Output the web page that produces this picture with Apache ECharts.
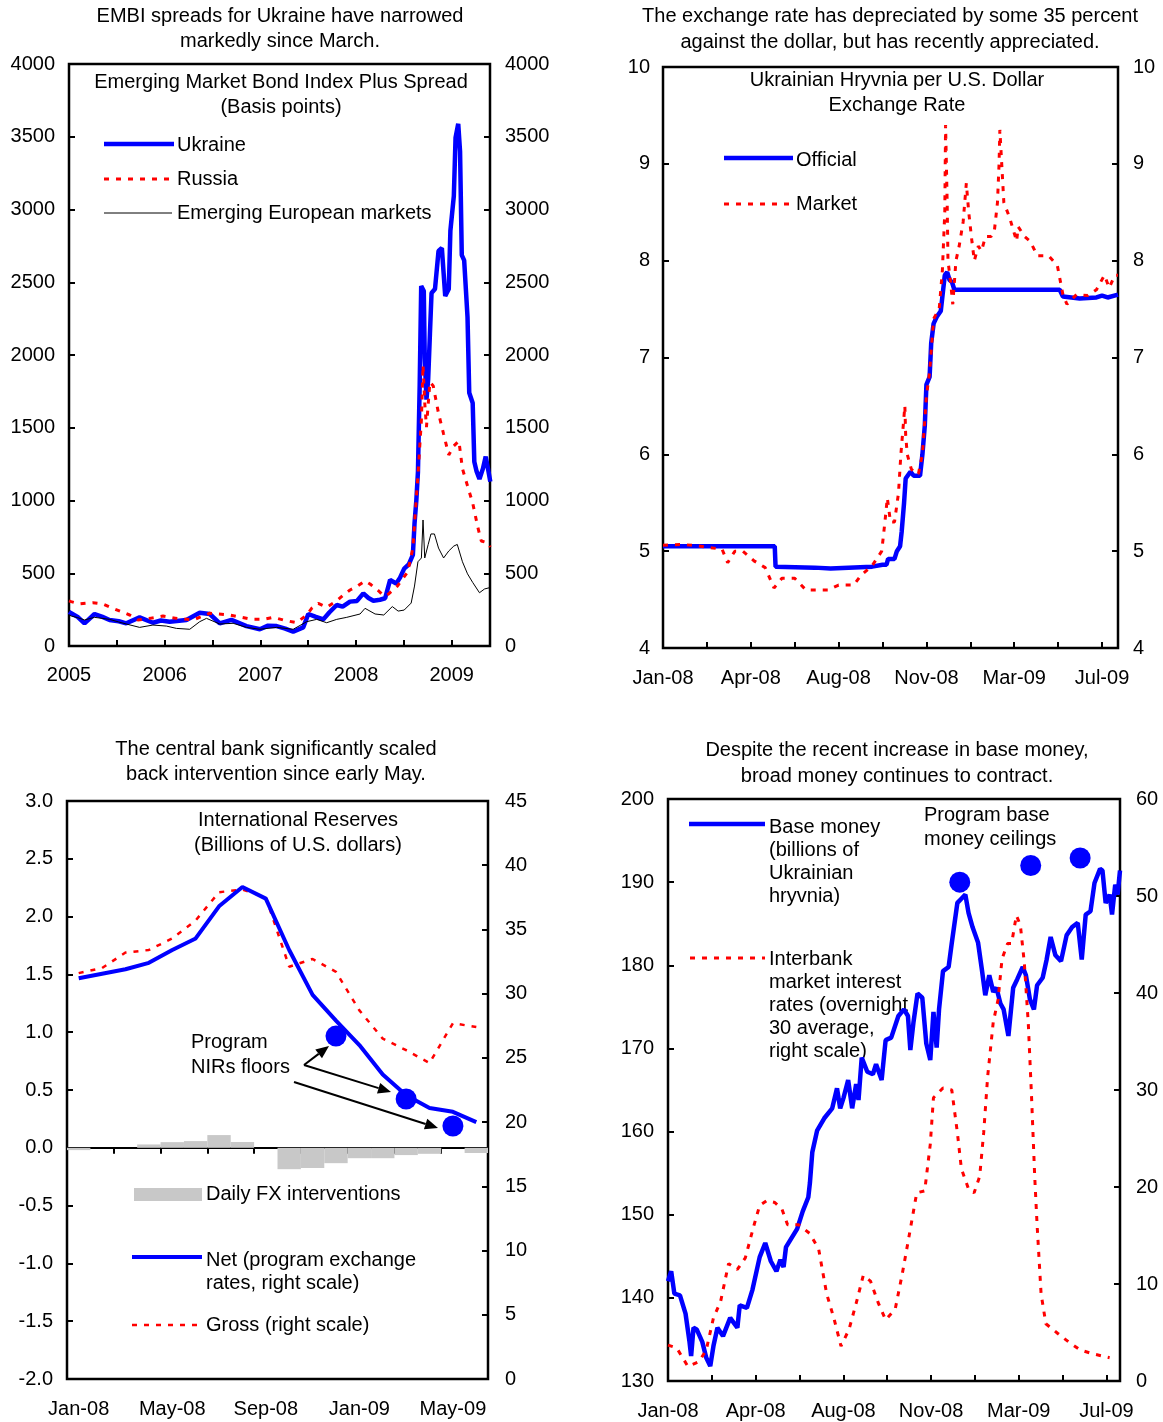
<!DOCTYPE html>
<html>
<head>
<meta charset="utf-8">
<script src="https://cdn.jsdelivr.net/npm/echarts@6/dist/echarts.min.js"></script>
<style>
html,body{margin:0;padding:0;background:#fff;}
#c{width:1163px;height:1422px;}
</style>
</head>
<body>
<div id="c"></div>
<script>
// ---------- Panel 1: EMBI+ spreads (x = decimal year) ----------
const p1YearLabels = ['2005','2006','2007','2008','2009'];
const ukraine = [[2005.0,235],[2005.023,225],[2005.09,200],[2005.162,156],[2005.267,220],[2005.35,200],[2005.424,179],[2005.52,170],[2005.599,156],[2005.738,197],[2005.877,160],[2005.96,175],[2006.052,167],[2006.227,179],[2006.366,229],[2006.471,220],[2006.576,156],[2006.698,179],[2006.855,137],[2006.995,115],[2007.08,140],[2007.170,137],[2007.26,120],[2007.343,98],[2007.448,128],[2007.501,220],[2007.58,200],[2007.658,183],[2007.72,230],[2007.798,282],[2007.86,270],[2007.937,305],[2008.01,310],[2008.076,362],[2008.13,330],[2008.181,311],[2008.25,318],[2008.304,328],[2008.356,454],[2008.42,430],[2008.46,470],[2008.503,532],[2008.55,560],[2008.594,627],[2008.611,840],[2008.630,1000],[2008.647,1196],[2008.665,1787],[2008.681,2474],[2008.695,2480],[2008.708,2440],[2008.718,1980],[2008.736,1693],[2008.754,1835],[2008.772,2144],[2008.789,2426],[2008.825,2453],[2008.862,2715],[2008.897,2735],[2008.932,2405],[2008.969,2453],[2008.986,2854],[2009.022,3093],[2009.040,3494],[2009.068,3589],[2009.087,3400],[2009.105,2687],[2009.130,2650],[2009.165,2260],[2009.183,1740],[2009.219,1670],[2009.236,1267],[2009.26,1200],[2009.290,1148],[2009.326,1219],[2009.355,1302],[2009.379,1219],[2009.403,1130]];
const russia = [[2005.0,310],[2005.023,305],[2005.110,289],[2005.249,298],[2005.354,289],[2005.459,259],[2005.547,236],[2005.634,213],[2005.720,179],[2005.843,190],[2005.982,206],[2006.123,190],[2006.296,179],[2006.471,225],[2006.681,213],[2006.803,197],[2006.908,183],[2007.029,183],[2007.134,197],[2007.257,176],[2007.379,160],[2007.484,213],[2007.536,259],[2007.605,293],[2007.693,266],[2007.798,311],[2007.867,350],[2007.937,385],[2008.007,408],[2008.094,447],[2008.147,426],[2008.234,380],[2008.290,344],[2008.338,357],[2008.432,412],[2008.539,508],[2008.594,673],[2008.611,838],[2008.647,1172],[2008.683,1553],[2008.700,1931],[2008.718,1670],[2008.736,1505],[2008.772,1814],[2008.807,1787],[2008.862,1599],[2008.915,1457],[2008.969,1313],[2009.022,1375],[2009.075,1409],[2009.112,1219],[2009.165,1100],[2009.219,983],[2009.272,818],[2009.309,722],[2009.379,708],[2009.403,680]];
const emEurope = [[2005.0,215],[2005.023,206],[2005.09,195],[2005.162,179],[2005.267,197],[2005.424,183],[2005.52,165],[2005.599,151],[2005.738,128],[2005.877,144],[2006.018,137],[2006.123,121],[2006.262,115],[2006.366,167],[2006.437,190],[2006.576,151],[2006.715,156],[2006.855,128],[2006.995,115],[2007.170,128],[2007.343,115],[2007.484,167],[2007.589,183],[2007.693,160],[2007.798,183],[2007.903,197],[2008.042,220],[2008.094,259],[2008.199,220],[2008.290,213],[2008.379,271],[2008.44,240],[2008.503,247],[2008.576,295],[2008.611,412],[2008.647,579],[2008.683,605],[2008.700,866],[2008.718,605],[2008.754,698],[2008.783,770],[2008.819,770],[2008.862,673],[2008.915,605],[2008.969,653],[2009.022,687],[2009.058,698],[2009.112,579],[2009.165,496],[2009.219,437],[2009.290,366],[2009.343,392],[2009.397,401]];

// ---------- Panel 2: exchange rate (x = days since 1 Jan 2008) ----------
const p2TickLabels = ['Jan-08','Apr-08','Aug-08','Nov-08','Mar-09','Jul-09'];
const official = [[0,5.05],[140,5.05],[141,4.84],[190,4.83],[210,4.82],[262,4.84],[275,4.86],[280,4.86],[282,4.92],[290,4.92],[293,5.0],[297,5.05],[299,5.2],[302,5.5],[304,5.75],[310,5.82],[314,5.78],[322,5.78],[325,6.0],[328,6.3],[330,6.72],[334,6.8],[336,7.15],[339,7.35],[343,7.42],[348,7.48],[353,7.85],[356,7.88],[359,7.8],[362,7.78],[365,7.7],[497,7.7],[501,7.63],[522,7.61],[543,7.62],[550,7.64],[557,7.62],[570,7.65]];
const market = [[0,5.06],[21,5.07],[39,5.06],[56,5.04],[74,5.02],[81,4.88],[90,5.0],[100,5.0],[114,4.9],[128,4.83],[139,4.62],[149,4.72],[165,4.72],[179,4.6],[193,4.6],[207,4.6],[220,4.65],[239,4.65],[248,4.75],[262,4.85],[274,5.0],[278,5.3],[281,5.55],[285,5.3],[290,5.3],[295,5.6],[298,6.0],[301,6.3],[303,6.5],[304,6.2],[306,6.0],[311,5.85],[316,5.8],[320,5.8],[325,6.0],[330,6.6],[334,6.85],[339,7.4],[346,7.5],[350,7.9],[353,8.5],[354,9.4],[356,8.6],[357,8.0],[360,7.8],[363,7.55],[367,8.0],[371,8.15],[376,8.4],[380,8.8],[383,8.5],[387,8.2],[390,8.0],[395,8.15],[399,8.1],[404,8.25],[411,8.25],[415,8.3],[419,8.6],[421,9.0],[422,9.35],[425,8.9],[427,8.6],[434,8.45],[443,8.2],[445,8.35],[453,8.25],[460,8.2],[469,8.05],[483,8.05],[494,7.95],[501,7.65],[506,7.55],[518,7.65],[532,7.64],[543,7.7],[553,7.85],[559,7.72],[566,7.85],[570,7.85]];

// ---------- Panel 3: reserves and interventions (monthly) ----------
const months = ['Jan-08','Feb-08','Mar-08','Apr-08','May-08','Jun-08','Jul-08','Aug-08','Sep-08','Oct-08','Nov-08','Dec-08','Jan-09','Feb-09','Mar-09','Apr-09','May-09','Jun-09'];
const fxInterventions = [-0.02,0,0,0.029,0.049,0.058,0.11,0.05,0,-0.185,-0.175,-0.133,-0.09,-0.09,-0.063,-0.052,0,-0.045];
const netReserves = [31.2,31.55,31.9,32.4,33.4,34.3,36.8,38.3,37.4,33.4,29.9,27.9,26.0,23.7,22.1,21.1,20.8,20.0];
const grossReserves = [31.6,32.0,33.2,33.4,34.3,35.7,37.9,38.1,37.5,32.1,32.7,31.7,28.7,26.5,25.6,24.6,27.7,27.4];
const nirFloors = [['Dec-08',26.7],['Mar-09',21.8],['May-09',19.7]];

// ---------- Panel 4: base money and interbank rates (x = days since 1 Jan 2008) ----------
const baseMoney = [[0,142.0],[4,143.2],[8,140.5],[15,140.3],[22,138.1],[27,134.7],[29,133.0],[32,136.4],[36,136.2],[43,134.7],[48,132.8],[53,131.8],[57,134.2],[62,136.4],[69,135.4],[78,137.6],[87,136.4],[90,139.1],[99,138.8],[106,141.0],[115,144.9],[122,146.6],[129,144.4],[136,143.2],[141,144.6],[145,143.7],[148,146.1],[162,148.3],[169,150.4],[176,152.1],[178,153.8],[181,157.5],[187,160.1],[196,161.6],[206,162.8],[212,165.2],[216,162.8],[220,164.0],[226,166.2],[231,162.8],[236,165.7],[239,163.8],[243,168.9],[250,167.2],[257,166.9],[261,168.1],[268,166.2],[273,171.0],[280,171.3],[289,173.9],[296,174.7],[301,173.9],[304,169.8],[308,173.2],[313,176.6],[319,176.1],[324,170.6],[329,168.6],[333,174.4],[337,170.1],[340,174.7],[345,179.3],[352,179.8],[356,182.7],[363,187.5],[368,188.0],[373,188.5],[377,186.3],[382,184.6],[389,182.7],[394,179.3],[398,176.4],[403,178.8],[408,176.8],[412,177.3],[417,175.4],[421,174.7],[427,171.5],[433,177.3],[438,178.3],[445,179.8],[449,178.8],[454,175.9],[459,174.7],[463,177.6],[470,178.5],[475,180.7],[480,183.4],[486,181.2],[493,180.5],[500,183.6],[507,184.6],[514,185.1],[519,180.7],[524,186.1],[530,186.5],[535,189.9],[542,191.6],[545,191.4],[549,187.5],[554,188.5],[557,186.1],[561,189.7],[564,188.5],[567,191.4]];
const interbank = [[0,3.7],[11,3.4],[25,1.5],[39,2.0],[48,3.2],[57,6.5],[66,8.2],[76,12.1],[87,11.5],[97,12.7],[108,16.1],[115,18.1],[124,18.6],[134,18.4],[143,17.7],[150,16.1],[164,16.1],[178,15.2],[189,13.6],[199,9.0],[208,6.5],[217,3.6],[227,5.3],[236,8.0],[245,10.9],[254,10.3],[264,8.0],[273,6.3],[285,7.4],[294,11.1],[303,15.2],[312,19.4],[322,19.6],[329,24.4],[333,29.2],[345,30.2],[356,30.0],[363,25.6],[368,21.9],[377,19.8],[384,19.4],[391,21.1],[396,25.6],[401,31.4],[408,37.0],[414,39.3],[419,43.5],[426,45.1],[431,45.1],[437,48.0],[442,47.0],[447,43.1],[452,36.8],[456,29.4],[460,21.1],[463,16.1],[468,9.0],[474,5.9],[489,4.9],[503,4.0],[517,3.2],[533,2.8],[554,2.4]];
const baseCeilings = [[366,190.0],[455,192.0],[517,192.9]];

// ---------- styling ----------
const FONT = '"Liberation Sans", Arial, sans-serif';
const FS = 20;
const BLUE = '#0000FF', RED = '#FF0000';
const chart = echarts.init(document.getElementById('c'), null, {renderer:'canvas'});

function grid(l,t,w,h){return {left:l,top:t,width:w,height:h,show:true,borderColor:'#000',borderWidth:2.5,backgroundColor:'transparent',containLabel:false};}
const tick = {show:true,inside:true,length:6,lineStyle:{color:'#000',width:2}};
function lab(margin, extra){return Object.assign({color:'#000',fontSize:FS,fontFamily:FONT,margin:margin},extra||{});}
function yAx(gi,pos,min,max,iv,margin,fmt){
  return {gridIndex:gi,type:'value',position:pos,min:min,max:max,interval:iv,
    axisLine:{show:false,onZero:false},axisTick:tick,splitLine:{show:false},
    axisLabel:lab(margin,{formatter:fmt||function(v){return String(v);}})};
}
function dayFmt(v){ return (v % 110 === 0) ? (p2TickLabels[v/110] || '') : ''; }

// graphics helpers
const G = [];
function txt(x,yc,text,align,lh,size){
  lh = lh||25; size=size||FS;
  G.push({type:'text',x:x,y:yc-lh/2,silent:true,style:{text:text,fill:'#000',font:size+'px '+FONT,fontSize:size,fontFamily:FONT,
    textAlign:align||'left',align:align||'left',textVerticalAlign:'top',verticalAlign:'top',lineHeight:lh}});
}
function seg(x1,y1,x2,y2,color,w,dash){
  G.push({type:'line',silent:true,shape:{x1:x1,y1:y1,x2:x2,y2:y2},style:{stroke:color,lineWidth:w,lineDash:dash||null}});
}
function arrow(x1,y1,x2,y2){
  const a=Math.atan2(y2-y1,x2-x1), L=13, W=5.5;
  const bx=x2-L*Math.cos(a), by=y2-L*Math.sin(a);
  seg(x1,y1,bx,by,'#000',2);
  G.push({type:'polygon',silent:true,shape:{points:[[x2,y2],[bx+W*Math.sin(a),by-W*Math.cos(a)],[bx-W*Math.sin(a),by+W*Math.cos(a)]]},style:{fill:'#000'}});
}

// titles
txt(280,16,'EMBI spreads for Ukraine have narrowed\nmarkedly since March.','center',25);
txt(890,16,'The exchange rate has depreciated by some 35 percent\nagainst the dollar, but has recently appreciated.','center',26);
txt(276,749,'The central bank significantly scaled\nback intervention since early May.','center',25);
txt(897,750,'Despite the recent increase in base money,\nbroad money continues to contract.','center',26);
// inner titles
txt(281,82,'Emerging Market Bond Index Plus Spread\n(Basis points)','center',25);
txt(897,80,'Ukrainian Hryvnia per U.S. Dollar\nExchange Rate','center',25);
txt(298,820,'International Reserves\n(Billions of U.S. dollars)','center',25);
txt(924,815,'Program base\nmoney ceilings','left',24);
// legends panel 1
seg(104,144,174,144,BLUE,4.5); txt(177,145,'Ukraine');
seg(104,179,170,179,RED,3,[5,7]); txt(177,179,'Russia');
seg(104,213,172,213,'#000',1); txt(177,213,'Emerging European markets');
// legends panel 2
seg(724,158,793,158,BLUE,4.5); txt(796,160,'Official');
seg(724,204,790,204,RED,3,[5,7]); txt(796,204,'Market');
// legends panel 3
G.push({type:'rect',silent:true,shape:{x:134,y:1188,width:68,height:13},style:{fill:'#C8C8C8'}});
txt(206,1194,'Daily FX interventions');
seg(132,1257,202,1257,BLUE,4); txt(206,1260,'Net (program exchange\nrates, right scale)','left',23);
seg(132,1325,198,1325,RED,2.5,[5,7]); txt(206,1325,'Gross (right scale)');
txt(191,1042,'Program\nNIRs floors','left',25);
arrow(304,1065,329,1046);
arrow(304,1065,391,1092);
arrow(294,1082,438,1128);
// legends panel 4
seg(689,824,765,824,BLUE,4.5); txt(769,827,'Base money\n(billions of\nUkrainian\nhryvnia)','left',23);
seg(690,958,765,958,RED,3,[5,7]); txt(769,959,'Interbank\nmarket interest\nrates (overnight\n30 average,\nright scale)','left',23);

const option = {
  animation:false,
  backgroundColor:'#fff',
  textStyle:{fontFamily:FONT},
  grid:[grid(69,64,421,582),grid(663,67,455,581),grid(67,801,421,578),grid(668,799,452,582)],
  xAxis:[
    {gridIndex:0,type:'value',min:2005,max:2009.4,interval:0.5,axisLine:{show:false,onZero:false},axisTick:tick,splitLine:{show:false},
      axisLabel:lab(19,{formatter:function(v){return (Math.abs(v-Math.round(v))<1e-6)?(p1YearLabels[Math.round(v)-2005]||''):'';}})},
    {gridIndex:1,type:'value',min:0,max:570,interval:55,axisLine:{show:false,onZero:false},axisTick:tick,splitLine:{show:false},
      axisLabel:lab(20,{formatter:dayFmt})},
    {gridIndex:2,type:'category',data:months,boundaryGap:true,axisLine:{show:false,onZero:false},axisTick:{show:false},splitLine:{show:false},
      axisLabel:lab(20,{interval:3})},
    {gridIndex:2,type:'category',data:months,boundaryGap:true,axisLine:{show:true,onZero:true,onZeroAxisIndex:4,lineStyle:{color:'#000',width:2}},
      axisTick:{show:true,inside:true,length:6,interval:1,lineStyle:{color:'#000',width:2}},axisLabel:{show:false},splitLine:{show:false}},
    {gridIndex:3,type:'value',min:0,max:567,interval:55,axisLine:{show:false,onZero:false},axisTick:tick,splitLine:{show:false},
      axisLabel:lab(20,{formatter:dayFmt})}
  ],
  yAxis:[
    yAx(0,'left',0,4000,500,14), yAx(0,'right',0,4000,500,15),
    yAx(1,'left',4,10,1,13), yAx(1,'right',4,10,1,15),
    yAx(2,'left',-2,3,0.5,14,function(v){return v.toFixed(1);}), yAx(2,'right',0,45,5,17),
    yAx(3,'left',130,200,10,14), yAx(3,'right',0,60,10,16)
  ],
  series:[
    {type:'line',xAxisIndex:0,yAxisIndex:0,data:ukraine,showSymbol:false,lineStyle:{color:BLUE,width:4.5},z:2},
    {type:'line',xAxisIndex:0,yAxisIndex:0,data:russia,showSymbol:false,lineStyle:{color:RED,width:3,type:[5,7]},z:3},
    {type:'line',xAxisIndex:0,yAxisIndex:0,data:emEurope,showSymbol:false,lineStyle:{color:'#000',width:1},z:4},

    {type:'line',xAxisIndex:1,yAxisIndex:2,data:official,showSymbol:false,lineStyle:{color:BLUE,width:4.5},z:2},
    {type:'line',xAxisIndex:1,yAxisIndex:2,data:market,showSymbol:false,lineStyle:{color:RED,width:3,type:[5,7]},z:3},

    {type:'bar',xAxisIndex:2,yAxisIndex:4,data:fxInterventions,barCategoryGap:'0%',itemStyle:{color:'#C8C8C8'},z:1},
    {type:'line',xAxisIndex:2,yAxisIndex:5,data:grossReserves,showSymbol:false,lineStyle:{color:RED,width:2.5,type:[5,7]},z:2},
    {type:'line',xAxisIndex:2,yAxisIndex:5,data:netReserves,showSymbol:false,lineStyle:{color:BLUE,width:4},z:3},
    {type:'scatter',xAxisIndex:2,yAxisIndex:5,data:nirFloors,symbolSize:21,itemStyle:{color:BLUE,opacity:1},z:4},

    {type:'line',xAxisIndex:4,yAxisIndex:6,data:baseMoney,showSymbol:false,lineStyle:{color:BLUE,width:4.5},z:2},
    {type:'line',xAxisIndex:4,yAxisIndex:7,data:interbank,showSymbol:false,lineStyle:{color:RED,width:3,type:[5,7]},z:3},
    {type:'scatter',xAxisIndex:4,yAxisIndex:6,data:baseCeilings,symbolSize:21,itemStyle:{color:BLUE,opacity:1},z:4}
  ],
  graphic:{elements:G}
};
chart.setOption(option);
</script>
</body>
</html>
